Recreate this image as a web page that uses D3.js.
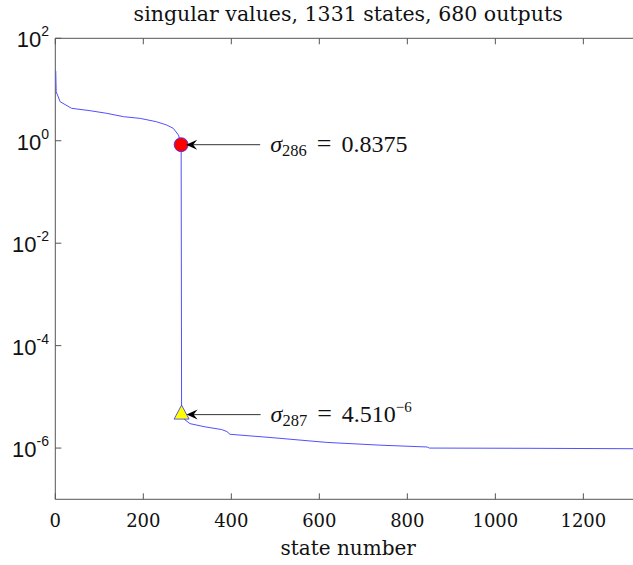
<!DOCTYPE html>
<html><head><meta charset="utf-8">
<script src="https://cdn.jsdelivr.net/npm/d3@7"></script>
<style>body{margin:0;background:#fff}svg{display:block}</style>
</head><body>
<svg id="c" width="633" height="565"></svg>
<script>
// ---- data ----
const title = "singular values, 1331 states, 680 outputs";
const xLabel = "state number";
const nStates = 1331;
const states = [1, 2, 11, 37, 79, 117, 155, 193, 230, 253, 268, 280, 286,
                287, 294, 306, 340, 378, 390, 397, 488, 617, 738, 845, 850, 1079, 1331];
const values = [23, 9.06, 5.78, 4.30, 3.86, 3.43, 2.95, 2.73, 2.35, 2.03, 1.75, 1.29, 0.8375,
                4.5e-6, 3.6e-6, 3.0e-6, 2.6e-6, 2.3e-6, 2.1e-6, 1.86e-6, 1.61e-6, 1.29e-6, 1.14e-6, 1.05e-6, 1.0e-6, 0.99e-6, 0.97e-6];
const xTicks = [0, 200, 400, 600, 800, 1000, 1200];
const yTickExps = [-6, -4, -2, 0, 2];
const yDomain = [1e-7, 1e2];
const marks = [
  {state: 286, value: 0.8375, sub: "286", num: "0.8375", sup: null, shape: "circle"},
  {state: 287, value: 4.5e-6, sub: "287", num: "4.510", sup: "\u22126", shape: "triangle"}
];

// ---- layout ----
const svg = d3.select("#c");
const L = 55.3, T = 38.3, B = 499.3, R = 641;
const x = d3.scaleLinear().domain([0, nStates]).range([L, R]);
const y = d3.scaleLog().domain(yDomain).range([B, T]);
const axisCol = "#555";

// box lines
svg.append("line").attr("x1", L).attr("x2", L).attr("y1", T).attr("y2", B).attr("stroke", axisCol);
svg.append("line").attr("x1", L).attr("x2", R).attr("y1", B).attr("y2", B).attr("stroke", axisCol);
svg.append("line").attr("x1", L).attr("x2", R).attr("y1", T).attr("y2", T).attr("stroke", axisCol);
svg.append("line").attr("x1", R).attr("x2", R).attr("y1", T).attr("y2", B).attr("stroke", axisCol);

// x ticks (inward, bottom and top)
const xg = svg.append("g");
xTicks.forEach(t => {
  xg.append("line").attr("x1", x(t)).attr("x2", x(t)).attr("y1", B).attr("y2", B - 6).attr("stroke", axisCol);
  xg.append("line").attr("x1", x(t)).attr("x2", x(t)).attr("y1", T).attr("y2", T + 6).attr("stroke", axisCol);
  xg.append("text").attr("x", x(t)).attr("y", 527).attr("text-anchor", "middle")
    .attr("font-family", "DejaVu Serif").attr("font-size", 18).attr("fill", "#111").text(t);
});
// y ticks
const yg = svg.append("g");
yTickExps.forEach(e => {
  const v = Math.pow(10, e);
  yg.append("line").attr("x1", L).attr("x2", L + 6).attr("y1", y(v)).attr("y2", y(v)).attr("stroke", axisCol);
  yg.append("line").attr("x1", R).attr("x2", R - 6).attr("y1", y(v)).attr("y2", y(v)).attr("stroke", axisCol);
  const tx = yg.append("text").attr("x", 49).attr("y", y(v) + 9).attr("text-anchor", "end")
    .attr("font-family", "Liberation Sans").attr("font-size", 22).attr("fill", "#111");
  tx.append("tspan").text("10");
  tx.append("tspan").attr("dy", -11).attr("font-size", 14).text(e < 0 ? "-" + (-e) : String(e));
});

// title and axis label
svg.append("text").attr("x", (L + R) / 2).attr("y", 21).attr("text-anchor", "middle")
  .attr("font-family", "DejaVu Serif").attr("font-size", 20.5).attr("fill", "#111").text(title);
svg.append("text").attr("x", (L + R) / 2).attr("y", 555).attr("text-anchor", "middle")
  .attr("font-family", "DejaVu Serif").attr("font-size", 20).attr("fill", "#111").text(xLabel);

// curve
const pts = states.map((s, i) => [s, values[i]]);
svg.append("clipPath").attr("id", "pc").append("rect")
  .attr("x", L).attr("y", T).attr("width", R - L).attr("height", B - T);
svg.append("path").datum(pts).attr("clip-path", "url(#pc)")
  .attr("d", d3.line().x(d => x(d[0])).y(d => y(d[1])))
  .attr("fill", "none").attr("stroke", "#5050ff").attr("stroke-width", 1);

// markers + annotations
marks.forEach(m => {
  const cx = x(m.state), cy = y(m.value);
  svg.append("line").attr("x1", cx + 8).attr("x2", cx + 79).attr("y1", cy).attr("y2", cy)
    .attr("stroke", "#333").attr("stroke-width", 1);
  if (m.shape === "circle") {
    svg.append("circle").attr("cx", cx).attr("cy", cy).attr("r", 7)
      .attr("fill", "#ff0000").attr("stroke", "#3030ff").attr("stroke-width", 0.8);
  } else {
    svg.append("path").attr("d", `M${cx},${cy - 9.5} L${cx + 7.5},${cy + 4.5} L${cx - 7.5},${cy + 4.5} Z`)
      .attr("fill", "#ffff00").attr("stroke", "#3030ff").attr("stroke-width", 0.8);
  }
  const tip = cx + 5;
  svg.append("path").attr("d", `M${tip},${cy} L${tip + 11},${cy - 5} L${tip + 7},${cy} L${tip + 11},${cy + 5} Z`)
    .attr("fill", "#000");
  const t = svg.append("text").attr("x", cx + 89).attr("y", cy + 7)
    .attr("font-family", "Liberation Serif").attr("font-size", 24).attr("fill", "#111");
  t.append("tspan").attr("font-style", "italic").text("\u03c3");
  t.append("tspan").attr("font-size", 16.5).attr("dy", 4).text(m.sub);
  t.append("tspan").attr("dy", -4).attr("dx", 10).attr("font-size", 26).text("=");
  t.append("tspan").attr("dx", 10).text(m.num);
  if (m.sup) t.append("tspan").attr("font-size", 15).attr("dy", -10).text(m.sup);
});
</script>
</body></html>
